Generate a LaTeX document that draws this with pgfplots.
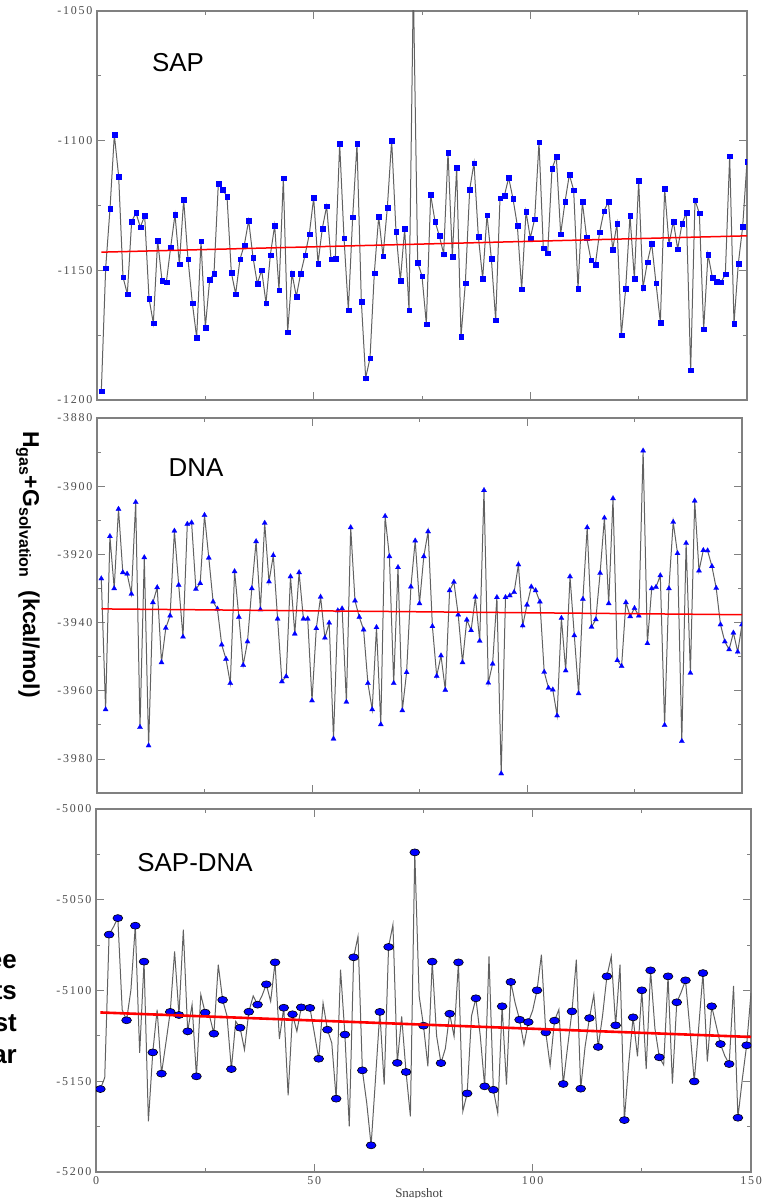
\documentclass[border=0pt]{standalone}
\usepackage{fontspec}
\setmainfont{Liberation Serif}
\newfontfamily\arial{Liberation Sans}
\newfontfamily\tickfont[LetterSpace=15]{Liberation Serif}
\usepackage{pgfplots}
\pgfplotsset{compat=1.18}

% common look of the three stacked panels
\pgfplotsset{
  panel/.style={
    scale only axis,
    xmin=0, xmax=150,
    xtick={0,50,100,150},
    minor x tick num=1,
    minor y tick num=1,
    tick align=inside,
    major tick length=8bp,
    minor tick length=4bp,
    axis line style={draw=black!50, line width=1.2bp},
    tick style={draw=black!50, line width=0.8bp},
    yticklabel style={font=\tickfont\fontsize{12}{12}\selectfont, text=black!70, xshift=-1bp},
    xticklabel style={font=\tickfont\fontsize{12}{12}\selectfont, text=black!70, yshift=-1bp},
    clip marker paths=true,
  },
  trace/.style={draw=black!62, line width=1bp},
  fit/.style={draw=red, line width=1.5bp, mark=none},
}

\begin{document}
\begin{tikzpicture}
\useasboundingbox (0,0) rectangle (765bp,1198bp);

% ---------- SAP ----------
\begin{axis}[panel,
  at={(97bp,798bp)}, anchor=south west,
  width=650bp, height=389bp,
  ymin=-1200, ymax=-1050,
  ytick={-1200,-1150,-1100,-1050},
  yticklabels={-1200,-1150,-1100,-1050},
  xticklabels={},
]
\addplot[trace, mark=square*, mark size=2.3bp,
  mark options={draw=blue, fill=blue, line width=0.2bp}] coordinates {
(1,-1196.5)(2,-1149.2)(3,-1126.3)(4,-1097.7)(5,-1113.8)(6,-1152.6)(7,-1159.1)(8,-1131.1)(9,-1127.8)(10,-1133.4)
(11,-1128.9)(12,-1160.8)(13,-1170.4)(14,-1138.5)(15,-1154.0)(16,-1154.6)(17,-1141.1)(18,-1128.5)(19,-1147.6)(20,-1122.8)
(21,-1145.7)(22,-1162.6)(23,-1175.9)(24,-1138.8)(25,-1172.0)(26,-1153.6)(27,-1151.2)(28,-1116.5)(29,-1118.9)(30,-1121.5)
(31,-1150.9)(32,-1159.1)(33,-1145.7)(34,-1140.2)(35,-1130.8)(36,-1145.0)(37,-1155.2)(38,-1149.9)(39,-1162.6)(40,-1144.1)
(41,-1132.7)(42,-1157.6)(43,-1114.4)(44,-1173.8)(45,-1151.2)(46,-1160.1)(47,-1151.2)(48,-1144.2)(49,-1136.0)(50,-1122.0)
(51,-1147.3)(52,-1133.8)(53,-1125.3)(54,-1145.7)(55,-1145.4)(56,-1101.2)(57,-1137.5)(58,-1165.3)(59,-1129.5)(60,-1101.2)
(61,-1162.0)(62,-1191.5)(63,-1183.9)(64,-1151.0)(65,-1129.3)(66,-1144.5)(67,-1125.8)(68,-1099.9)(69,-1135.1)(70,-1154.0)
(71,-1134.0)(72,-1165.3)(73,-1040.0)(74,-1147.0)(75,-1152.2)(76,-1170.7)(77,-1120.9)(78,-1131.1)(79,-1136.7)(80,-1143.7)
(81,-1104.5)(82,-1144.6)(83,-1110.4)(84,-1175.6)(85,-1155.0)(86,-1118.9)(87,-1108.6)(88,-1136.9)(89,-1153.2)(90,-1128.7)
(91,-1145.4)(92,-1169.2)(93,-1122.2)(94,-1121.3)(95,-1114.3)(96,-1122.4)(97,-1132.7)(98,-1157.3)(99,-1127.4)(100,-1137.5)
(101,-1130.2)(102,-1100.6)(103,-1141.5)(104,-1143.3)(105,-1110.8)(106,-1106.2)(107,-1136.0)(108,-1123.6)(109,-1113.1)(110,-1119.1)
(111,-1157.1)(112,-1123.6)(113,-1137.4)(114,-1146.0)(115,-1147.8)(116,-1135.2)(117,-1127.1)(118,-1123.6)(119,-1141.9)(120,-1132.0)
(121,-1175.0)(122,-1157.1)(123,-1128.9)(124,-1153.2)(125,-1115.5)(126,-1156.7)(127,-1146.9)(128,-1139.6)(129,-1155.0)(130,-1170.1)
(131,-1118.6)(132,-1139.9)(133,-1131.1)(134,-1141.8)(135,-1132.0)(136,-1127.8)(137,-1188.5)(138,-1122.9)(139,-1128.0)(140,-1172.7)
(141,-1143.9)(142,-1152.7)(143,-1154.4)(144,-1154.6)(145,-1151.5)(146,-1105.9)(147,-1170.5)(148,-1147.3)(149,-1133.2)(150,-1108.0)
};
\addplot[fit] coordinates {(1,-1143.0) (150,-1136.7)};
\end{axis}

% ---------- DNA ----------
\begin{axis}[panel,
  at={(97bp,405bp)}, anchor=south west,
  width=645bp, height=375bp,
  ymin=-3990, ymax=-3880,
  ytick={-3980,-3960,-3940,-3920,-3900,-3880},
  yticklabels={-3980,-3960,-3940,-3920,-3900,-3880},
  xticklabels={},
]
\addplot[trace, mark=triangle*, mark size=3bp,
  mark options={draw=blue, fill=blue, line width=0.2bp}] coordinates {
(1,-3927.1)(2,-3965.5)(3,-3914.7)(4,-3930.0)(5,-3906.7)(6,-3925.3)(7,-3925.7)(8,-3931.6)(9,-3904.7)(10,-3970.7)
(11,-3920.9)(12,-3976.1)(13,-3934.1)(14,-3929.7)(15,-3951.7)(16,-3941.6)(17,-3938.0)(18,-3913.1)(19,-3929.0)(20,-3944.2)
(21,-3911.1)(22,-3910.7)(23,-3930.2)(24,-3928.5)(25,-3908.5)(26,-3921.0)(27,-3933.9)(28,-3936.0)(29,-3946.5)(30,-3950.7)
(31,-3957.8)(32,-3925.0)(33,-3938.4)(34,-3952.5)(35,-3945.6)(36,-3930.0)(37,-3916.2)(38,-3936.2)(39,-3910.8)(40,-3928.0)
(41,-3920.3)(42,-3938.9)(43,-3957.3)(44,-3955.8)(45,-3926.5)(46,-3943.3)(47,-3925.3)(48,-3938.9)(49,-3938.9)(50,-3962.9)
(51,-3941.7)(52,-3932.5)(53,-3944.5)(54,-3940.1)(55,-3974.1)(56,-3936.5)(57,-3935.9)(58,-3963.3)(59,-3912.1)(60,-3933.6)
(61,-3938.4)(62,-3942.1)(63,-3957.8)(64,-3965.5)(65,-3941.4)(66,-3969.9)(67,-3908.8)(68,-3920.6)(69,-3957.8)(70,-3923.8)
(71,-3965.8)(72,-3954.6)(73,-3929.5)(74,-3916.0)(75,-3934.4)(76,-3920.6)(77,-3913.3)(78,-3941.1)(79,-3955.7)(80,-3949.7)
(81,-3959.8)(82,-3930.6)(83,-3928.1)(84,-3937.7)(85,-3951.7)(86,-3939.2)(87,-3942.3)(88,-3932.5)(89,-3945.4)(90,-3901.2)
(91,-3957.7)(92,-3952.1)(93,-3932.6)(94,-3984.3)(95,-3932.6)(96,-3932.1)(97,-3931.1)(98,-3923.0)(99,-3940.9)(100,-3934.8)
(101,-3929.5)(102,-3930.6)(103,-3933.9)(104,-3954.5)(105,-3959.2)(106,-3959.7)(107,-3967.3)(108,-3938.7)(109,-3954.1)(110,-3926.5)
(111,-3943.8)(112,-3960.8)(113,-3933.1)(114,-3912.1)(115,-3941.3)(116,-3939.1)(117,-3925.5)(118,-3909.3)(119,-3934.4)(120,-3903.6)
(121,-3951.1)(122,-3952.8)(123,-3934.1)(124,-3938.2)(125,-3935.8)(126,-3938.0)(127,-3889.6)(128,-3946.1)(129,-3930.0)(130,-3929.6)
(131,-3926.2)(132,-3970.1)(133,-3930.0)(134,-3910.5)(135,-3919.7)(136,-3974.8)(137,-3916.7)(138,-3954.8)(139,-3904.3)(140,-3924.8)
(141,-3918.8)(142,-3918.9)(143,-3923.5)(144,-3929.9)(145,-3940.6)(146,-3945.6)(147,-3947.9)(148,-3943.0)(149,-3948.6)(150,-3940.6)
};
\addplot[fit] coordinates {(1,-3936.0) (150,-3937.7)};
\end{axis}

% ---------- SAP-DNA ----------
\begin{axis}[panel,
  at={(96bp,26bp)}, anchor=south west,
  width=655bp, height=363bp,
  ymin=-5200, ymax=-5000,
  ytick={-5200,-5150,-5100,-5050,-5000},
  yticklabels={-5200,-5150,-5100,-5050,-5000},
  xticklabels={0,50,100,150},
]
\addplot[trace, mark=*, mark repeat=2, mark phase=1, mark size=3.5bp,
  mark options={xscale=1.4, fill=blue, draw=black, line width=0.6bp}] coordinates {
(1,-5154.3)(2,-5148.0)(3,-5069.2)(4,-5065.0)(5,-5060.1)(6,-5110.6)(7,-5116.4)(8,-5099.6)(9,-5064.3)(10,-5134.4)
(11,-5084.1)(12,-5172.1)(13,-5134.1)(14,-5110.6)(15,-5145.8)(16,-5129.0)(17,-5111.8)(18,-5078.5)(19,-5113.5)(20,-5066.5)
(21,-5122.5)(22,-5107.8)(23,-5147.3)(24,-5102.3)(25,-5112.2)(26,-5114.0)(27,-5123.8)(28,-5085.8)(29,-5105.2)(30,-5114.0)
(31,-5143.3)(32,-5117.0)(33,-5120.5)(34,-5132.6)(35,-5111.7)(36,-5103.0)(37,-5107.8)(38,-5103.0)(39,-5096.6)(40,-5106.0)
(41,-5084.5)(42,-5126.7)(43,-5109.5)(44,-5157.8)(45,-5113.1)(46,-5122.5)(47,-5109.3)(48,-5109.6)(49,-5109.6)(50,-5123.4)
(51,-5137.6)(52,-5106.9)(53,-5121.6)(54,-5129.0)(55,-5159.6)(56,-5088.5)(57,-5124.3)(58,-5174.9)(59,-5081.7)(60,-5070.2)
(61,-5144.0)(62,-5162.0)(63,-5185.3)(64,-5149.0)(65,-5111.8)(66,-5151.9)(67,-5076.0)(68,-5063.7)(69,-5139.9)(70,-5114.3)
(71,-5144.9)(72,-5169.4)(73,-5023.9)(74,-5103.0)(75,-5119.4)(76,-5141.8)(77,-5084.1)(78,-5125.0)(79,-5140.0)(80,-5132.0)
(81,-5112.8)(82,-5125.3)(83,-5084.5)(84,-5166.6)(85,-5156.7)(86,-5114.0)(87,-5104.3)(88,-5125.0)(89,-5152.8)(90,-5081.2)
(91,-5154.7)(92,-5167.5)(93,-5108.7)(94,-5151.9)(95,-5095.3)(96,-5107.0)(97,-5116.1)(98,-5129.9)(99,-5117.4)(100,-5111.0)
(101,-5099.9)(102,-5080.3)(103,-5123.1)(104,-5141.4)(105,-5116.6)(106,-5110.5)(107,-5151.5)(108,-5131.0)(109,-5111.5)(110,-5083.0)
(111,-5154.1)(112,-5131.0)(113,-5115.2)(114,-5102.3)(115,-5131.1)(116,-5114.0)(117,-5092.2)(118,-5081.2)(119,-5119.2)(120,-5085.8)
(121,-5171.4)(122,-5140.0)(123,-5114.8)(124,-5136.3)(125,-5099.9)(126,-5143.3)(127,-5088.9)(128,-5121.0)(129,-5136.8)(130,-5141.0)
(131,-5092.2)(132,-5151.3)(133,-5106.5)(134,-5101.0)(135,-5094.4)(136,-5121.0)(137,-5150.1)(138,-5121.0)(139,-5090.4)(140,-5139.1)
(141,-5108.7)(142,-5119.0)(143,-5129.5)(144,-5136.0)(145,-5140.5)(146,-5097.4)(147,-5170.1)(148,-5149.0)(149,-5130.2)(150,-5101.4)
};
\addplot[fit, line width=2.6bp] coordinates {(1,-5112.1) (150,-5125.6)};
\end{axis}

% panel names
\node[font=\arial\fontsize{26}{26}\selectfont] at (178bp,1135bp) {SAP};
\node[font=\arial\fontsize{26}{26}\selectfont] at (196bp,730bp) {DNA};
\node[font=\arial\fontsize{26}{26}\selectfont] at (195bp,335bp) {SAP-DNA};

% shared y label
\node[rotate=-90, anchor=base, font=\arial\bfseries\fontsize{23}{23}\selectfont]
  at (23bp,633.5bp) {H\textsubscript{gas}+G\textsubscript{solvation}~ (kcal/mol)};

% x label
\node[anchor=base, font=\fontsize{13}{13}\selectfont, text=black!75] at (419bp,0.5bp) {Snapshot};

% caption fragments cut by the left edge, as in the reference
\begin{scope}[font=\arial\bfseries\fontsize{26}{26}\selectfont]
\node[anchor=base east, inner sep=0pt] at (17bp,229.7bp) {ee};
\node[anchor=base east, inner sep=0pt] at (17bp,198bp) {ts};
\node[anchor=base east, inner sep=0pt] at (17bp,166.3bp) {st};
\node[anchor=base east, inner sep=0pt] at (17bp,134.7bp) {ar};
\end{scope}
\end{tikzpicture}
\end{document}
